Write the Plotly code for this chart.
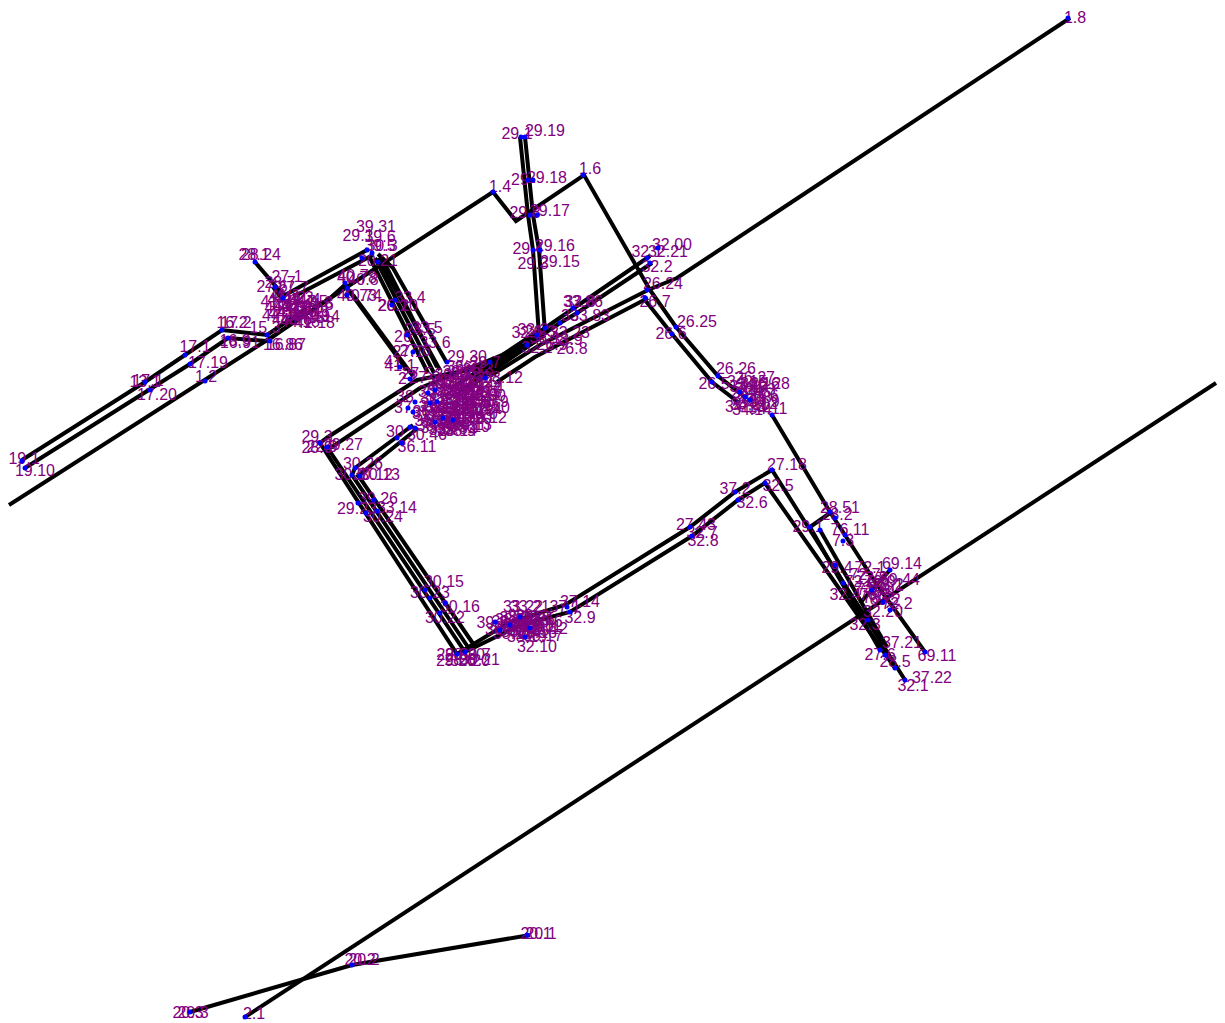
import plotly.graph_objects as go

# Network routes
route_1 = [(9,505),(208,378),(272,337),(350,285),(493,192),(516,221),(584,175),(650,290)]
route_1b = [(1070,18),(677,278),(648,290),(540,345),(490,376)]
route_1c = [(648,298),(535,357),(497,382)]
route_2 = [(1216,383),(245,1017)]
route_20 = [(190,1012),(352,965),(530,935)]
route_17a = [(22,460),(145,382),(185,355),(222,330),(267,335),(307,308)]
route_17b = [(25,468),(150,390),(190,364),(228,338),(267,341),(300,317)]
route_26a = [(650,290),(676,327),(718,376),(745,397)]
route_26b = [(645,300),(672,334),(712,382),(738,402)]
route_69 = [(772,415),(830,512),(845,535),(877,585),(925,652)]
route_29a = [(520,137),(528,215),(533,250),(539,335)]
route_29b = [(525,137),(533,215),(539,250),(545,332)]
route_32a = [(650,256),(573,308),(545,328),(490,366),(417,380),(328,437),(320,443),(457,654),(510,622),(565,605),(690,527),(735,492),(772,470),(905,680)]
route_32b = [(652,263),(577,313),(560,323),(527,345),(420,388),(332,447),(327,447),(465,652),(520,625),(570,612),(692,536),(738,500),(765,483),(895,668)]
route_32c = [(545,335),(458,392)]
route_32d = [(540,330),(452,388)]
route_32e = [(537,340),(462,392)]
route_32f = [(543,332),(470,383)]
route_32g = [(535,337),(475,378)]
route_30a = [(413,425),(355,468),(352,475),(470,650)]
route_30b = [(418,428),(358,476),(360,478),(476,648)]
route_39a = [(367,250),(285,295)]
route_39b = [(373,255),(297,295)]
route_39c = [(370,258),(428,373)]
route_39d = [(375,258),(434,373)]
route_39e = [(378,258),(440,370)]
route_39f = [(382,258),(437,367)]
route_39g = [(378,254),(393,268),(447,363)]
route_40a = [(347,288),(407,370)]
route_40b = [(353,295),(413,376)]
route_40c = [(347,283),(328,300),(313,307)]
route_28 = [(255,262),(285,297)]
route_27 = [(273,287),(283,300)]
route_72a = [(810,527),(880,650)]
route_72b = [(820,530),(887,647)]
route_72c = [(833,565),(862,615)]
route_72d = [(843,583),(868,620)]
route_72e = [(830,513),(810,527)]
route_69b = [(890,570),(860,603)]
all_routes = [route_1, route_1b, route_1c, route_2, route_20, route_17a, route_17b, route_26a, route_26b,
              route_69, route_29a, route_29b, route_32a, route_32b, route_32c, route_32d, route_32e, route_32f, route_32g,
              route_30a, route_30b, route_39a, route_39b, route_39c, route_39d, route_39e, route_39f,
              route_39g, route_40a, route_40b, route_40c, route_28, route_27, route_72a, route_72b,
              route_72c, route_72d, route_72e, route_69b]

nodes = [(1068,18),(583,175),(493,192),(205,381),(245,1017),(527,935),(352,965),(190,1012),(22,461),(25,468),
    (145,382),(150,390),(185,355),(190,364),(222,330),(228,338),(267,335),(270,341),(255,262),(275,287),(283,298),
    (345,283),(347,288),(347,295),(367,250),(362,258),(372,253),(378,262),(395,300),(392,305),(407,335),(413,352),
    (400,367),(410,379),(435,390),(428,393),(437,402),(430,403),(415,402),(408,408),(413,412),(435,422),(443,418),
    (453,420),(410,427),(415,428),(397,438),(402,443),(485,378),(490,362),(447,362),
    (521,137),(525,137),(528,180),(533,180),(530,215),(537,215),(533,250),(540,250),(647,258),(650,263),(658,248),
    (647,290),(645,298),(577,313),(573,308),(527,345),(545,328),(537,335),(560,323),(676,327),(672,334),(718,376),
    (712,382),(740,392),(745,397),(750,400),(772,415),(830,512),(835,518),(810,527),(820,530),(845,535),(843,541),
    (890,570),(835,565),(843,583),(872,590),(883,602),(890,610),(868,620),(880,650),(885,655),(925,652),(905,680),(895,668),
    (320,443),(327,447),(355,468),(360,476),(352,475),(358,503),(377,511),(374,500),(366,513),
    (425,590),(430,598),(445,603),(440,613),(457,654),(465,652),(495,622),(500,630),(510,625),(520,617),(525,637),
    (530,628),(567,607),(570,612),(690,527),(692,536),(735,492),(738,500),(772,470),(765,483)]

labels_outer = [("1.8",1075,18),("1.6",590,169),("1.4",500,187),("1.2",206,377),("2.1",254,1014),
    ("20.1",536,934),("20.1",541,934),("20.2",360,960),("20.2",364,960),("20.3",188,1013),("20.3",193,1013),
    ("19.1",24,459),("19.10",35,471),("13.1",145,382),("17.1",148,381),("17.20",157,395),("17.1",195,347),("17.19",208,363)]
labels_17 = [("16.2",232,323),("17.2",236,323),("16.9",235,341),("16.91",240,343),("15.3",265,328),("16.86",283,345),("16.87",286,345)]
labels_upper_left = [("28.1",254,255),("28.24",261,255),("27.1",287,277),("27.6",272,287),("27.7",293,288),("28.7",280,283),
    ("44.1",283,300),("44.2",290,298),("44.3",298,298),("44.4",305,300),("44.5",312,302),("44.6",318,305),("44.7",280,308),
    ("44.8",288,306),("44.9",296,307),("44.10",303,309),("44.11",311,311),("41.16",297,312),("41.18",315,323),("44.14",320,317),
    ("44.15",305,318),("44.16",292,320),("1.3",322,303),("41.5",285,296),("41.6",276,302),("41.7",300,302),
    ("44.17",288,314),("44.18",300,322),("44.19",310,316),("44.20",282,316)]
labels_39 = [("39.31",376,227),("29.1",358,236),("39.6",380,237),("39.5",380,246),("30.3",382,246),("20.21",378,261),
    ("40.78",357,278),("40.8",363,280),("40.7",353,276),("40.73",357,296),("40.74",362,296),
    ("33.4",410,298),("26.20",398,306),("26.1",393,306),("33.5",427,328),("28.5",420,330),("33.6",435,343),("26",403,337),
    ("27.1",408,352),("27.6",415,351),("41",393,362),("27",407,379),("41.1",400,366),("27.5",417,374),("27.3",425,378)]
labels_central = [("29.30",467,357),("29.7",485,363),("28.12",503,378),("30.9",493,402),("30.10",490,408),("30.12",487,418),
    ("30.13",472,425),("28.14",457,431),("30.46",427,435),("36.11",417,447),("30",395,432),("38",405,397),("37",403,408),
    ("30.1",450,375),("30.2",458,372),("30.3",466,374),("30.4",474,376),("30.5",482,382),("30.6",442,384),("30.7",450,383),
    ("30.8",458,381),("30.11",466,383),("30.14",474,385),("30.17",482,390),("30.18",438,392),("30.19",446,391),
    ("30.25",454,390),("30.27",462,392),("30.28",470,393),("30.29",478,395),("30.30",486,396),("31.1",436,399),
    ("31.2",444,400),("31.3",452,398),("31.4",460,400),("31.5",468,401),("31.6",476,403),("31.7",484,402),("31.8",434,407),
    ("31.9",442,408),("31.10",450,406),("31.11",458,408),("31.12",466,410),("31.13",474,411),("31.14",482,409),
    ("31.15",432,414),("31.16",440,416),("31.17",448,415),("31.18",456,417),("31.19",464,418),("31.20",472,419),
    ("35.1",430,421),("35.2",438,423),("35.3",446,422),("35.4",454,424),("35.5",462,425),("35.6",436,428),("35.7",444,430),
    ("35.8",452,429),("35.9",460,431),("35.10",470,427),("35.11",448,381),("35.12",456,387),("35.13",464,395),
    ("35.14",472,399),("35.15",480,406),("35.16",440,404),("35.17",448,411),("35.18",456,404),("35.19",464,413),("35.20",478,414),
    ("36.1",470,368),("36.2",462,367),("36.3",478,370),("36.4",488,388),("36.5",486,393),("36.6",428,412),("36.7",432,426)]
labels_lower_left = [("29.3",317,437),("29.27",343,445),("28.9",317,448),("22.9",322,447),("30.26",363,464),("30.12",373,475),
    ("30.13",380,475),("30.0",350,475),("39.26",378,499),("33.14",397,508),("29.23",357,509),("30.24",383,517),
    ("30.15",444,582),("30.23",430,593),("30.16",460,607),("30.22",445,618),("29.20",456,661),("28.20",465,655),
    ("30.20",470,661),("30.21",480,660),("29.6",452,655),("28.6",460,660),("30.7",475,655)]
labels_bottom_cluster = [("32.10",537,647),("33.22",523,607),("33.21",530,607),("39.2",492,623),("37.14",580,602),("32.9",580,618),
    ("37.1",565,607),("38.1",507,622),("38.2",515,618),("38.3",523,617),("38.4",531,616),("38.5",539,619),("38.6",547,622),
    ("38.7",510,628),("38.8",518,625),("38.9",526,624),("38.10",534,626),("38.11",542,627),("38.12",548,629),("38.13",513,634),
    ("38.14",521,632),("38.15",529,631),("38.16",537,633),("38.17",543,636),("38.18",515,620),("38.19",527,637),("38.20",505,630),("38.21",535,620)]
labels_route_32 = [("27.43",696,525),("32.7",702,533),("32.8",703,541),("37.2",735,489),("32.5",778,486),("32.6",752,503),("27.18",787,465)]
labels_top = [("29.19",545,131),("29.1",517,134),("29.18",547,178),("29",520,180),("29.17",550,211),("29.8",525,213),
    ("29.16",555,246),("29.4",528,249),("29.15",560,262),("29.3",533,264),
    ("32.00",672,245),("32.21",668,252),("32.1",647,252),("32.2",657,267),("26.24",663,284),("26.7",655,302),("33.86",583,302),
    ("32.8",580,302),("33.83",590,316),("33",570,316),("32.1",527,333),("26.3",540,332),("32.2",537,348),("26.8",572,349),
    ("33.23",570,333),("33.9",567,340),("26.9",552,345),("33.1",545,338),("33.2",533,330)]
labels_26 = [("26.25",697,322),("26.6",671,334),("26.26",736,369),("26.5",714,384),("26.27",755,378),("26.28",770,384),("34.11",768,409),
    ("34.1",745,387),("34.2",753,385),("34.3",760,390),("34.4",747,393),("34.5",755,392),("34.6",763,396),("34.7",748,399),
    ("34.8",756,398),("34.9",764,402),("34.10",750,405),("34.12",758,404),("34.13",745,407),
    ("34.14",752,410),("34.15",747,382),("34.16",760,384)]
labels_right = [("28.51",840,508),("28.2",837,515),("29.1",808,527),("76.11",850,530),("7.3",843,541),("69.14",902,564),("29.4",837,568),
    ("72.1",870,568),("69.44",900,580),("72.6",860,582),("32.4",845,595),("73.1",870,588),("78.3",875,595),("72.2",897,604),
    ("32.20",883,612),("32.3",865,625),("37.21",902,643),("27.6",880,655),("28.5",895,662),("69.11",937,656),("37.22",932,678),("32.1",913,686),
    ("72.7",865,575),("72.8",872,578),("72.9",880,582),("73.2",888,585),("73.3",872,590),("73.4",880,592),("78.1",888,586),("78.2",878,598),("69.2",885,600)]
label_groups = [labels_outer, labels_17, labels_upper_left, labels_39, labels_central, labels_lower_left,
                labels_bottom_cluster, labels_route_32, labels_top, labels_26, labels_right]
all_labels = [l for g in label_groups for l in g]

fig = go.Figure()
for r in all_routes:
    fig.add_trace(go.Scatter(x=[p[0] for p in r], y=[p[1] for p in r], mode="lines",
                             line=dict(color="black", width=4), hoverinfo="skip", showlegend=False))
fig.add_trace(go.Scatter(x=[l[1] for l in all_labels], y=[l[2] + 1 for l in all_labels], text=[l[0] for l in all_labels],
                         mode="text", textposition="middle center",
                         textfont=dict(color="#800080", size=16, family="Liberation Sans, Arial"),
                         hoverinfo="skip", showlegend=False))
fig.add_trace(go.Scatter(x=[n[0] for n in nodes], y=[n[1] for n in nodes], mode="markers",
                         marker=dict(color="#0000ff", size=5), hoverinfo="skip", showlegend=False))
fig.update_layout(width=1209, height=1015, margin=dict(l=0, r=0, t=0, b=0),
                  paper_bgcolor="white", plot_bgcolor="white", showlegend=False,
                  xaxis=dict(range=[8, 1217], visible=False),
                  yaxis=dict(range=[1023, 8], visible=False))
fig.write_html("out.html", post_script="document.documentElement.style.overflow='hidden';")
